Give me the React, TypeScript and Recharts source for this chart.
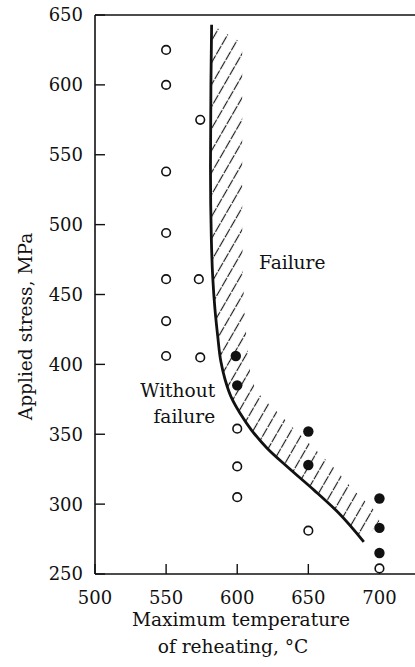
import React from 'react';
import { ComposedChart, Scatter, XAxis, YAxis, ReferenceLine, ReferenceDot } from 'recharts';

// ---- data ----
const xTicks = [500, 550, 600, 650, 700];
const yTicks = [250, 300, 350, 400, 450, 500, 550, 600, 650];

// open circles: without failure
const noFailure = [
  { t: 550, s: 625 },
  { t: 550, s: 600 },
  { t: 550, s: 538 },
  { t: 550, s: 494 },
  { t: 550, s: 461 },
  { t: 550, s: 431 },
  { t: 550, s: 406 },
  { t: 574, s: 575 },
  { t: 573, s: 461 },
  { t: 574, s: 405 },
  { t: 600, s: 354 },
  { t: 600, s: 327 },
  { t: 600, s: 305 },
  { t: 650, s: 281 },
  { t: 700, s: 254 },
];

// filled circles: failure
const failure = [
  { t: 599, s: 406 },
  { t: 600, s: 385 },
  { t: 650, s: 352 },
  { t: 650, s: 328 },
  { t: 700, s: 304 },
  { t: 700, s: 283 },
  { t: 700, s: 265 },
];

// boundary curve, ascending stress
const boundaryCurve = [
  { t: 689, s: 273 },
  { t: 671, s: 294 },
  { t: 654, s: 310 },
  { t: 636, s: 326 },
  { t: 621, s: 340 },
  { t: 610, s: 353 },
  { t: 602, s: 365 },
  { t: 596, s: 376 },
  { t: 591.5, s: 389 },
  { t: 588.5, s: 402 },
  { t: 586.3, s: 420 },
  { t: 584.3, s: 440 },
  { t: 582.8, s: 462 },
  { t: 581.8, s: 490 },
  { t: 581.2, s: 540 },
  { t: 581.5, s: 600 },
  { t: 582, s: 643 },
];

// hatched zone outline
const hatchZone = [
  { t: 582, s: 643 },
  { t: 581.5, s: 600 },
  { t: 581.2, s: 540 },
  { t: 581.8, s: 490 },
  { t: 582.8, s: 462 },
  { t: 584.3, s: 440 },
  { t: 586.3, s: 420 },
  { t: 588.5, s: 402 },
  { t: 591.5, s: 389 },
  { t: 596, s: 376 },
  { t: 602, s: 365 },
  { t: 610, s: 353 },
  { t: 621, s: 340 },
  { t: 636, s: 326 },
  { t: 654, s: 310 },
  { t: 671, s: 294 },
  { t: 689, s: 273 },
  { t: 700, s: 288 },
  { t: 696, s: 296 },
  { t: 682, s: 310 },
  { t: 668, s: 326 },
  { t: 654, s: 340 },
  { t: 640, s: 354 },
  { t: 626, s: 368 },
  { t: 613, s: 381 },
  { t: 609, s: 395 },
  { t: 606, s: 425 },
  { t: 604, s: 460 },
  { t: 603.5, s: 500 },
  { t: 603.5, s: 630 },
];

const FONT = '"DejaVu Serif", serif';
const INK = '#111';
const TITLE = 18.6;

const OpenDot = (p: any) => (
  <circle cx={p.cx} cy={p.cy} r={4.3} fill="#fff" stroke={INK} strokeWidth={1.6} />
);
const FilledDot = (p: any) => <circle cx={p.cx} cy={p.cy} r={5.2} fill={INK} stroke="none" />;
const NoDot = () => <g />;

const YLabel = (props: any) => {
  const vb = props.viewBox;
  const cx = vb.x + 25;
  const cy = vb.y + vb.height / 2 + 32;
  return (
    <text
      x={cx}
      y={cy}
      transform={`rotate(-90 ${cx} ${cy})`}
      textAnchor="middle"
      dominantBaseline="central"
      fontFamily={FONT}
      fontSize={TITLE}
      fill={INK}
    >
      Applied stress, MPa
    </text>
  );
};

const XLabel = (props: any) => {
  const vb = props.viewBox;
  return (
    <g fontFamily={FONT} fontSize={TITLE} fill={INK}>
      <text x={vb.x + 146} y={vb.y + 52} textAnchor="middle">
        Maximum temperature
      </text>
      <text x={vb.x + 138} y={vb.y + 79} textAnchor="middle">
        of reheating, °C
      </text>
    </g>
  );
};

export default function App() {
  return (
    <div style={{ position: 'absolute', left: 0, top: 0, width: 415, height: 667, background: '#fff' }}>
      <ComposedChart
        width={415}
        height={667}
        margin={{ top: 15, right: 0, bottom: 0, left: 0 }}
        style={{ fontFamily: FONT }}
      >
        <defs>
          <pattern
            id="hatch"
            patternUnits="userSpaceOnUse"
            width={11}
            height={11}
            patternTransform="rotate(30)"
          >
            <line x1={5.5} y1={0} x2={5.5} y2={11} stroke="#1a1a1a" strokeWidth={1.15} strokeDasharray="5 1.2" />
          </pattern>
        </defs>
        <XAxis
          type="number"
          dataKey="t"
          domain={[500, 725]}
          ticks={xTicks}
          allowDataOverflow
          height={93}
          tickSize={-10}
          tickMargin={27}
          axisLine={{ stroke: INK, strokeWidth: 1.6 }}
          tickLine={{ stroke: INK, strokeWidth: 1.4 }}
          tick={{ fill: INK, fontSize: 18, fontFamily: FONT }}
          label={{ content: XLabel }}
        />
        <YAxis
          type="number"
          dataKey="s"
          domain={[250, 650]}
          ticks={yTicks}
          allowDataOverflow
          width={95}
          tickSize={-10}
          tickMargin={22}
          axisLine={{ stroke: INK, strokeWidth: 1.6 }}
          tickLine={{ stroke: INK, strokeWidth: 1.4 }}
          tick={{ fill: INK, fontSize: 18, fontFamily: FONT }}
          label={{ content: YLabel }}
        />
        <ReferenceLine y={650} stroke={INK} strokeWidth={1.6} />
        <Scatter
          data={hatchZone}
          isAnimationActive={false}
          shape={NoDot}
          line={{ fill: 'url(#hatch)', stroke: 'none' }}
          lineType="joint"
          lineJointType="linear"
        />
        <Scatter
          data={boundaryCurve}
          isAnimationActive={false}
          shape={NoDot}
          line={{ stroke: INK, strokeWidth: 2.8, fill: 'none' }}
          lineType="joint"
          lineJointType="monotoneY"
        />
        <Scatter data={noFailure} isAnimationActive={false} shape={OpenDot} />
        <Scatter data={failure} isAnimationActive={false} shape={FilledDot} />
        <ReferenceDot
          x={638.7}
          y={473}
          r={0}
          fill="none"
          stroke="none"
          label={{ value: 'Failure', position: 'center', fill: INK, fontSize: TITLE, fontFamily: FONT }}
        />
        <ReferenceDot
          x={584.5}
          y={381.7}
          r={0}
          fill="none"
          stroke="none"
          label={{ value: 'Without', position: 'left', offset: 0, fill: INK, fontSize: TITLE, fontFamily: FONT }}
        />
        <ReferenceDot
          x={584.5}
          y={362.6}
          r={0}
          fill="none"
          stroke="none"
          label={{ value: 'failure', position: 'left', offset: 0, fill: INK, fontSize: TITLE, fontFamily: FONT }}
        />
      </ComposedChart>
    </div>
  );
}
